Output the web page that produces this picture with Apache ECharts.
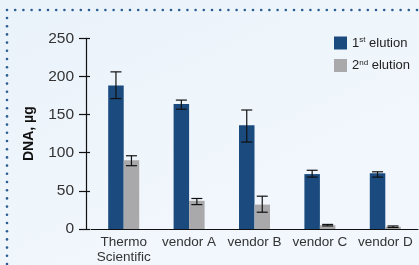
<!DOCTYPE html>
<html><head><meta charset="utf-8">
<script src="https://cdn.jsdelivr.net/npm/echarts@6/dist/echarts.min.js"></script>
<style>html,body{margin:0;padding:0;background:#fff}#c{width:419px;height:265px}</style>
</head><body><div id="c"></div>
<script>
const categories = ['Thermo\nScientific', 'vendor A', 'vendor B', 'vendor C', 'vendor D'];
const elution1 = [188, 164, 136, 72, 73];
const elution1Lo = [171, 157, 114, 68, 68];
const elution1Hi = [206, 169, 156, 77, 75];
const elution2 = [90, 37, 32, 5, 3];
const elution2Lo = [83, 32, 22, 4, 2];
const elution2Hi = [96, 40, 43, 6, 4];
const yTicks = [0, 50, 100, 150, 200, 250];

const FONT = '"Liberation Sans Narrow", "Liberation Sans", Arial, sans-serif';
const chart = echarts.init(document.getElementById('c'), null, {renderer: 'canvas'});

function errSeries(lo, hi, idx) {
  return {
    type: 'custom',
    z: 10,
    data: lo.map((l, i) => [i, l, hi[i]]),
    renderItem: function (params, api) {
      const ci = api.value(0);
      const pLo = api.coord([ci, api.value(1)]);
      const pHi = api.coord([ci, api.value(2)]);
      const bw = 15.5;
      const x = pLo[0] + (idx === 0 ? -bw / 2 : bw / 2);
      const cap = 5.5;
      const st = {stroke: '#111', lineWidth: 1.2};
      return {type: 'group', children: [
        {type: 'line', shape: {x1: x, y1: pLo[1], x2: x, y2: pHi[1]}, style: st},
        {type: 'line', shape: {x1: x - cap, y1: pLo[1], x2: x + cap, y2: pLo[1]}, style: st},
        {type: 'line', shape: {x1: x - cap, y1: pHi[1], x2: x + cap, y2: pHi[1]}, style: st}
      ]};
    }
  };
}

const dotsH = [], dotsV = [];
for (let x = 7; x < 419; x += 8.2) dotsH.push({type: 'circle', shape: {cx: x, cy: 10, r: 1.3}, style: {fill: '#2a5d93'}});
for (let y = 18; y < 265; y += 8.2) dotsV.push({type: 'circle', shape: {cx: 7, cy: y, r: 1.3}, style: {fill: '#2a5d93'}});

chart.setOption({
  animation: false,
  backgroundColor: {type: 'linear', x: 0, y: 0, x2: 0.3, y2: 1, colorStops: [
    {offset: 0, color: '#eaf2fa'}, {offset: 1, color: '#f1f7fc'}]},
  graphic: dotsH.concat(dotsV),
  grid: {left: 91, right: 1, top: 38.3, bottom: 35.7, containLabel: false},
  legend: {
    show: true, orient: 'vertical', left: 329, top: 31, itemWidth: 13, itemHeight: 13, itemGap: 9,
    icon: 'rect',
    textStyle: {fontFamily: FONT, fontSize: 13, color: '#222',
      rich: {s: {fontSize: 8, verticalAlign: 'top', padding: [0, 0, 6, 0], fontFamily: FONT, color: '#222'},
             t: {fontSize: 13, fontFamily: FONT, color: '#222'}}},
    formatter: function (n) {
      return n === 'e1' ? '{t|1}{s|st}{t| elution}' : '{t|2}{s|nd}{t| elution}';
    },
    data: ['e1', 'e2']
  },
  xAxis: {
    type: 'category', data: categories,
    axisLine: {lineStyle: {color: '#111', width: 1.2}},
    axisTick: {alignWithLabel: true, length: 4, lineStyle: {color: '#111', width: 1.2}},
    axisLabel: {fontFamily: FONT, fontSize: 13.5, color: '#333', margin: 6, lineHeight: 15, interval: 0}
  },
  yAxis: [{
    type: 'value', min: 0, max: 250, interval: 50, offset: 5,
    name: 'DNA, µg', nameLocation: 'middle', nameGap: 50, nameRotate: 90,
    nameTextStyle: {fontFamily: FONT, fontSize: 14, fontWeight: 'bold', color: '#111'},
    axisLine: {show: true, lineStyle: {color: '#111', width: 1.2}},
    axisTick: {show: true, length: 7, lineStyle: {color: '#111', width: 1.2}},
    axisLabel: {fontFamily: FONT, fontSize: 15.5, color: '#333', margin: 12,
      formatter: v => yTicks.includes(v) ? String(v) : ''},
    splitLine: {show: false}
  }, {
    type: 'value', min: 0, max: 250, interval: 50, position: 'left', offset: 5,
    axisLine: {show: false},
    axisTick: {show: true, inside: true, length: 4, lineStyle: {color: '#111', width: 1.2}},
    axisLabel: {show: false}, splitLine: {show: false}
  }],
  series: [
    {name: 'e1', type: 'bar', data: elution1, barWidth: 15.5, barGap: '0%', itemStyle: {color: '#1a4a7e'}},
    {name: 'e2', type: 'bar', data: elution2, barWidth: 15.5, barGap: '0%', itemStyle: {color: '#a9a9ab'}},
    errSeries(elution1Lo, elution1Hi, 0),
    errSeries(elution2Lo, elution2Hi, 1)
  ]
});
</script></body></html>
